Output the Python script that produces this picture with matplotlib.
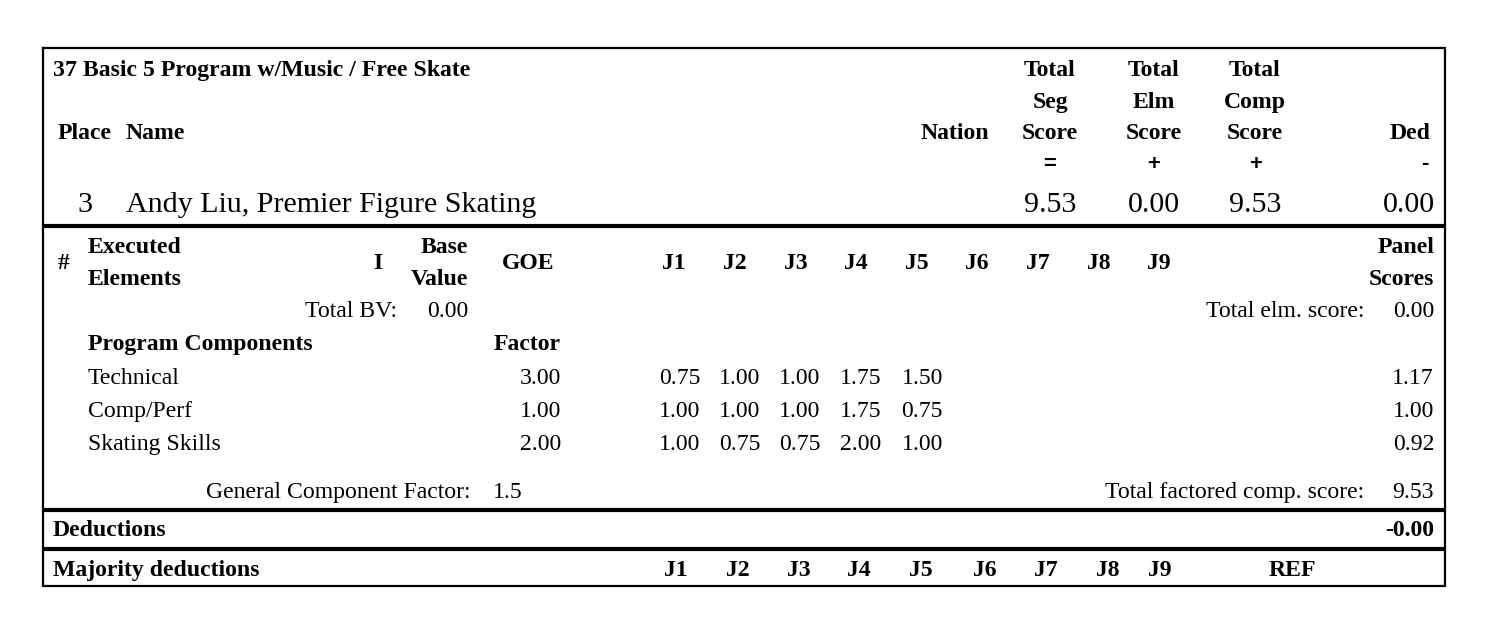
import matplotlib

matplotlib.use("Agg")
import matplotlib.pyplot as plt

event_title = "37 Basic 5 Program w/Music / Free Skate"
place = 3
skater = "Andy Liu, Premier Figure Skating"
header_totals = [("Total", "Seg", "Score", "="), ("Total", "Elm", "Score", "+"), ("Total", "Comp", "Score", "+")]
segment_totals = [9.53, 0.00, 9.53]
ded_total = 0.00

judges = ["J1", "J2", "J3", "J4", "J5", "J6", "J7", "J8", "J9"]
components = ["Technical", "Comp/Perf", "Skating Skills"]
factors = [3.00, 1.00, 2.00]
judge_scores = [
    [0.75, 1.00, 1.00, 1.75, 1.50],
    [1.00, 1.00, 1.00, 1.75, 0.75],
    [1.00, 0.75, 0.75, 2.00, 1.00],
]
panel_scores = [1.17, 1.00, 0.92]
total_bv = 0.00
total_elm = 0.00
comp_factor = 1.5
total_comp = 9.53
deductions = -0.00

SERIF = "Liberation Serif"
SANS = "Liberation Sans"
PX = 0.72  # pixels -> points at dpi 100
FS = 23.8 * PX
FS_BIG = 30 * PX

fig = plt.figure(figsize=(14.87, 6.17), dpi=100)
ax = fig.add_axes([0, 0, 1, 1])
ax.set_xlim(0, 1487)
ax.set_ylim(617, 0)
ax.axis("off")


def txt(x, y, s, ha="left", bold=False, size=FS, family=SERIF):
    ax.text(x, y, s, ha=ha, va="baseline", fontsize=size, family=family,
            fontweight="bold" if bold else "normal", color="black")


def hline(y, lw):
    ax.plot([43, 1445], [y, y], color="black", lw=lw, solid_capstyle="butt")


# outer frame
L, R, T, B = 43, 1445, 48, 586
ax.plot([L, R, R, L, L], [T, T, B, B, T], color="black", lw=1.6, solid_joinstyle="miter")
hline(226, 3.0)
hline(510, 3.0)
hline(549, 3.0)

# header block
txt(53, 76, event_title, bold=True)
txt(58, 139, "Place", bold=True)
txt(126, 139, "Name", bold=True)
txt(955, 139, "Nation", ha="center", bold=True)
col_x = [1050, 1154, 1255]
for x, (a, b, c, sign) in zip(col_x, header_totals):
    txt(x, 76, a, ha="center", bold=True)
    txt(x, 108, b, ha="center", bold=True)
    txt(x, 139, c, ha="center", bold=True)
    txt(x, 170, sign, ha="center", bold=True, size=22 * PX, family=SANS)
txt(1431, 139, "Ded", ha="right", bold=True)
txt(1425, 169, "-", ha="center", bold=True, size=22 * PX, family=SANS)

txt(85, 212, str(place), ha="center", size=FS_BIG)
txt(126, 212, skater, size=FS_BIG)
for x, v in zip(col_x, segment_totals):
    txt(x, 212, f"{v:.2f}", ha="center", size=FS_BIG)
txt(1435, 212, f"{ded_total:.2f}", ha="right", size=FS_BIG)

# element / component block
judge_x = [674, 735, 796, 856, 917, 977, 1038, 1099, 1159]
txt(64, 269, "#", ha="center", bold=True)
txt(88, 253, "Executed", bold=True)
txt(88, 285, "Elements", bold=True)
txt(378, 269, "I", ha="center", bold=True)
txt(468, 253, "Base", ha="right", bold=True)
txt(468, 285, "Value", ha="right", bold=True)
txt(528, 269, "GOE", ha="center", bold=True)
for x, j in zip(judge_x, judges):
    txt(x, 269, j, ha="center", bold=True)
txt(1434, 253, "Panel", ha="right", bold=True)
txt(1434, 285, "Scores", ha="right", bold=True)

txt(397, 317, "Total BV:", ha="right")
txt(468, 317, f"{total_bv:.2f}", ha="right")
txt(1364, 317, "Total elm. score:", ha="right")
txt(1434, 317, f"{total_elm:.2f}", ha="right")

txt(88, 350, "Program Components", bold=True)
txt(561, 350, "Factor", ha="right", bold=True)
score_right = [700, 760, 820, 881, 943]
for i, (name, f, row, p) in enumerate(zip(components, factors, judge_scores, panel_scores)):
    y = 384 + i * 33
    txt(88, y, name)
    txt(561, y, f"{f:.2f}", ha="right")
    for x, v in zip(score_right, row):
        txt(x, y, f"{v:.2f}", ha="right")
    txt(1434, y, f"{p:.2f}", ha="right")

txt(470, 498, "General Component Factor:", ha="right")
txt(493, 498, f"{comp_factor}")
txt(1364, 498, "Total factored comp. score:", ha="right")
txt(1434, 498, f"{total_comp:.2f}", ha="right")

# deductions
txt(53, 536, "Deductions", bold=True)
txt(1434, 536, f"-{abs(deductions):.2f}", ha="right", bold=True)
txt(53, 576, "Majority deductions", bold=True)
maj_x = [676, 738, 799, 859, 921, 985, 1046, 1108, 1160]
for x, j in zip(maj_x, judges):
    txt(x, 576, j, ha="center", bold=True)
txt(1292, 576, "REF", ha="center", bold=True)

fig.savefig("out.png", dpi=100)
